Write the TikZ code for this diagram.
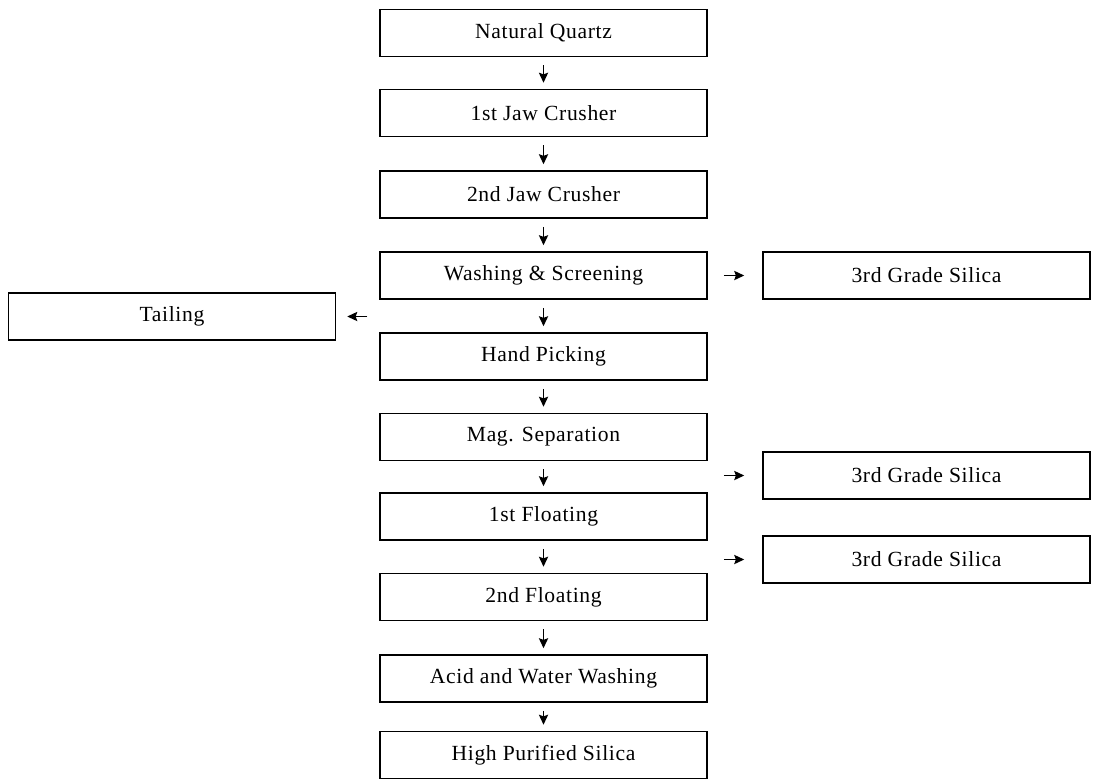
\documentclass[tikz,border=0pt]{standalone}
\usepackage{fontspec}
\setmainfont{Liberation Serif}[LetterSpace=3]
\usetikzlibrary{arrows.meta,graphs}
\tikzset{
    stage/.style ={
        shape=rectangle,
        draw=black,
        line width=0.75pt,
        minimum width=163.5pt,
        minimum height=23.5pt,
        inner sep=0pt,
        font=\fontsize{10.8}{13}\selectfont
    },
    flow/.style ={
        ->,
        line width=0.75pt,
        shorten <=4pt,
        shorten >=3pt
    }
}

\begin{document}
\begin{tikzpicture}[x=0.5pt,y=-0.5pt,>={Stealth[length=5pt,width=4.6pt,inset=0.8pt]}]
    \useasboundingbox (0,0) rectangle (1093,778);
    \node[stage] (quartz) at(543.5,33) {Natural Quartz};
    \node[stage] (jaw1) at(543.5,113) {1st Jaw Crusher};
    \node[stage] (jaw2) at(543.5,194.5) {2nd Jaw Crusher};
    \node[stage] (washing) at(543.5,275.5) {Washing \& Screening};
    \node[stage] (picking) at(543.5,356.5) {Hand Picking};
    \node[stage] (mag) at(543.5,437) {Mag. Separation};
    \node[stage] (float1) at(543.5,516.5) {1st Floating};
    \node[stage] (float2) at(543.5,597) {2nd Floating};
    \node[stage] (acid) at(543.5,678.5) {Acid and Water Washing};
    \node[stage] (purified) at(543.5,755) {High Purified Silica};
    \node[stage] (grade1) at(926.5,275.5) {3rd Grade Silica};
    \node[stage] (grade2) at(926.5,475.5) {3rd Grade Silica};
    \node[stage] (grade3) at(926.5,559.5) {3rd Grade Silica};
    \node[stage] (tailing) at(172,316.5) {Tailing};
    \graph[edges={flow}]{
        (quartz)->(jaw1)->(jaw2)->(washing)->(picking)->(mag);
        (mag)->(float1)->(float2)->(acid)->(purified)
    };
    \draw[flow,shorten <=8pt,shorten >=9pt] (washing.east) -- (grade1.west);
    \draw[flow,shorten <=8pt,shorten >=9pt] (grade2.west -| mag.east) -- (grade2.west);
    \draw[flow,shorten <=8pt,shorten >=9pt] (grade3.west -| float1.east) -- (grade3.west);
    \draw[flow,shorten <=6pt,shorten >=5.5pt] (tailing.east -| picking.west) -- (tailing.east);
\end{tikzpicture}
\end{document}
